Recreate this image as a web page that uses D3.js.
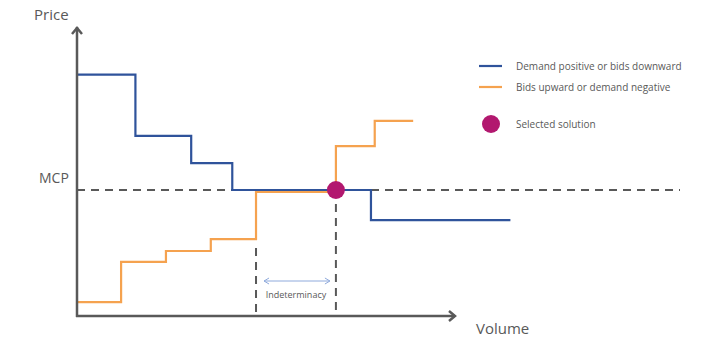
<!DOCTYPE html>
<html>
<head>
<meta charset="utf-8">
<script src="https://cdn.jsdelivr.net/npm/d3@7"></script>
<style>
  body { margin: 0; background: #fff; }
  text { font-family: "Open Sans", "Liberation Sans", sans-serif; fill: #595959; }
</style>
</head>
<body>
<div id="chart"></div>
<script>
// step curves, volume / price in arbitrary units
var demandVol   = [0, 15.5, 30.3, 41.2, 78, 115];
var demandPrice = [83.5, 62.3, 52.9, 43.6, 33.2, 33.2];
var bidVol      = [0, 11.7, 23.6, 35.5, 47.5, 68.7, 79, 89.2];
var bidPrice    = [4.8, 18.7, 22.5, 26.6, 42.9, 58.8, 67.5, 67.5];
var mcp = 43.6;
var solutionVol = 68.7;
var indetFrom = 47.5, indetTo = 68.7;
var legendLabels = ["Demand positive or bids downward", "Bids upward or demand negative", "Selected solution"];

var blue = "#2f539b", orange = "#f5a24f", magenta = "#b2186f", gray = "#595959";

var width = 719, height = 344;
var svg = d3.select("#chart").append("svg")
  .attr("width", width).attr("height", height);

var x = d3.scaleLinear().domain([0, 160]).range([77, 680]);
var y = d3.scaleLinear().domain([0, 100]).range([316, 27]);

var line = d3.line()
  .x(function(d) { return x(d[0]); })
  .y(function(d) { return y(d[1]); })
  .curve(d3.curveStepAfter);

// MCP dashed line
svg.append("line")
  .attr("x1", x(0)).attr("x2", x(160))
  .attr("y1", y(mcp)).attr("y2", y(mcp))
  .attr("stroke", gray).attr("stroke-width", 2)
  .attr("stroke-dasharray", "8,6");

// vertical dashed lines for indeterminacy
svg.append("line")
  .attr("x1", x(indetFrom)).attr("x2", x(indetFrom))
  .attr("y1", 248).attr("y2", y(0))
  .attr("stroke", gray).attr("stroke-width", 2).attr("stroke-dasharray", "8,6");
svg.append("line")
  .attr("x1", x(indetTo)).attr("x2", x(indetTo))
  .attr("y1", 204).attr("y2", y(0))
  .attr("stroke", gray).attr("stroke-width", 2).attr("stroke-dasharray", "8,6");

// bids curve
svg.append("path")
  .datum(d3.zip(bidVol, bidPrice))
  .attr("d", line)
  .attr("fill", "none").attr("stroke", orange).attr("stroke-width", 2.2);

// demand curve
svg.append("path")
  .datum(d3.zip(demandVol, demandPrice))
  .attr("d", line)
  .attr("fill", "none").attr("stroke", blue).attr("stroke-width", 2.2);

// axes with open arrows
svg.append("line")
  .attr("x1", x(0)).attr("x2", x(0)).attr("y1", y(0) + 1).attr("y2", 27)
  .attr("stroke", gray).attr("stroke-width", 2.5);
svg.append("path")
  .attr("d", "M" + (x(0) - 5) + "," + 34 + "L" + x(0) + "," + 28 + "L" + (x(0) + 5) + "," + 34)
  .attr("fill", "none").attr("stroke", gray).attr("stroke-width", 2.5);
svg.append("line")
  .attr("x1", x(0) - 1).attr("x2", 455).attr("y1", y(0)).attr("y2", y(0))
  .attr("stroke", gray).attr("stroke-width", 2.5);
svg.append("path")
  .attr("d", "M449," + (y(0) - 5) + "L455," + y(0) + "L449," + (y(0) + 5))
  .attr("fill", "none").attr("stroke", gray).attr("stroke-width", 2.5);

// selected solution
svg.append("circle")
  .attr("cx", x(solutionVol)).attr("cy", y(mcp)).attr("r", 9)
  .attr("fill", magenta);

// indeterminacy double arrow
var ax1 = x(indetFrom) + 8, ax2 = x(indetTo) - 6, ay = 281;
svg.append("line").attr("x1", ax1).attr("x2", ax2).attr("y1", ay).attr("y2", ay)
  .attr("stroke", "#8faadc").attr("stroke-width", 1);
svg.append("path")
  .attr("d", "M" + (ax1 + 5) + "," + (ay - 3) + "L" + ax1 + "," + ay + "L" + (ax1 + 5) + "," + (ay + 3) +
             "M" + (ax2 - 5) + "," + (ay - 3) + "L" + ax2 + "," + ay + "L" + (ax2 - 5) + "," + (ay + 3))
  .attr("fill", "none").attr("stroke", "#8faadc").attr("stroke-width", 1);
svg.append("text")
  .attr("x", (x(indetFrom) + x(indetTo)) / 2).attr("y", 298)
  .attr("text-anchor", "middle").attr("font-size", 9)
  .text("Indeterminacy");

// axis labels
svg.append("text").attr("x", 34).attr("y", 20).attr("font-size", 15).text("Price");
svg.append("text").attr("x", 39).attr("y", 183).attr("font-size", 14).text("MCP");
svg.append("text").attr("x", 476).attr("y", 334).attr("font-size", 15).text("Volume");

// legend
var legend = svg.append("g");
legend.append("line").attr("x1", 479).attr("x2", 502).attr("y1", 66).attr("y2", 66)
  .attr("stroke", blue).attr("stroke-width", 2.2);
legend.append("line").attr("x1", 479).attr("x2", 502).attr("y1", 87).attr("y2", 87)
  .attr("stroke", orange).attr("stroke-width", 2.2);
legend.append("circle").attr("cx", 491).attr("cy", 124).attr("r", 9).attr("fill", magenta);
[66, 87, 124].forEach(function(ly, i) {
  legend.append("text")
    .attr("x", 516).attr("y", ly).attr("dy", "0.35em")
    .attr("font-size", 10)
    .text(legendLabels[i]);
});
</script>
</body>
</html>
